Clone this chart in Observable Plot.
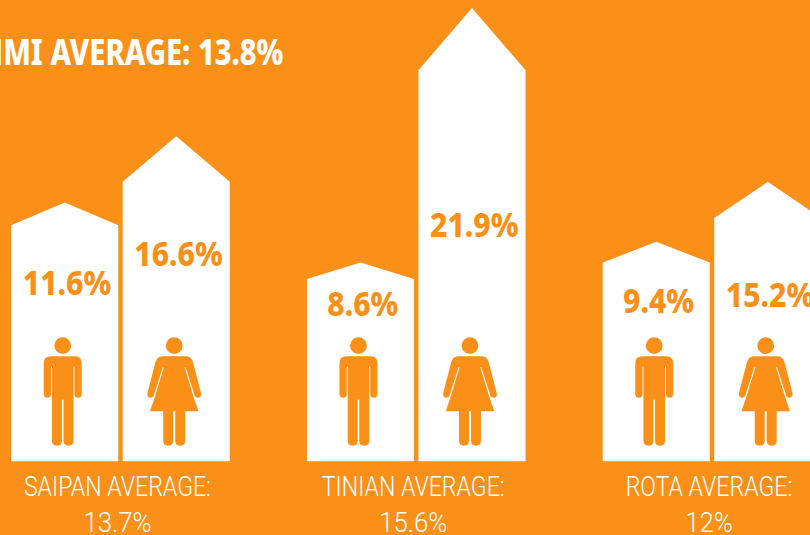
<!DOCTYPE html>
<html><head><meta charset="utf-8">
<script src="https://cdn.jsdelivr.net/npm/d3@7"></script>
<script src="https://cdn.jsdelivr.net/npm/@observablehq/plot@0.6"></script>
<style>html,body{margin:0;padding:0;background:#fb9019;overflow:hidden}svg{display:block;background:#fb9019}</style>
</head><body><div id="chart"></div>
<script>
const ORANGE = "#fb9019";
// Categories
const islands = ["SAIPAN", "TINIAN", "ROTA"];
const genders = ["male", "female"];
const islandAverage = ["13.7%", "15.6%", "12%"];
const overall = "CNMI AVERAGE: 13.8%";
// Labelled percentages
const maleLabel = [11.6, 8.6, 9.4];
const femaleLabel = [16.6, 21.9, 15.2];
// Heights, in the chart's percent-like y units
const maleShoulder = [11.4, 8.8, 9.6];
const maleApex = [12.5, 9.6, 10.6];
const femaleShoulder = [13.5, 18.9, 11.75];
const femaleApex = [15.7, 21.9, 13.5];
// Where the value labels sit inside each house
const maleLabelLevel = [8.56, 7.54, 7.69];
const femaleLabelLevel = [9.96, 11.36, 7.98];

const OFFSET = 0.1885, HALF = 0.181;
const bars = islands.flatMap((island, i) => [
  {island, i, gender: "male", cx: i - OFFSET, v: maleLabel[i], s: maleShoulder[i], a: maleApex[i], l: maleLabelLevel[i]},
  {island, i, gender: "female", cx: i + OFFSET, v: femaleLabel[i], s: femaleShoulder[i], a: femaleApex[i], l: femaleLabelLevel[i]}
]);
const outline = bars.flatMap(b => [
  {id: b.island + b.gender, x: b.cx - HALF, y: b.s},
  {id: b.island + b.gender, x: b.cx, y: b.a},
  {id: b.island + b.gender, x: b.cx + HALF, y: b.s}
]);

function drawHalves(ctx, k, pts) {
  ctx.moveTo(0, pts[0][1] * k);
  for (const p of pts) {
    if (p.length === 2) ctx.lineTo(p[0] * k, p[1] * k);
    else ctx.quadraticCurveTo(p[0] * k, p[1] * k, p[2] * k, p[3] * k);
  }
  for (let j = pts.length - 1; j >= 0; j--) {
    const p = pts[j];
    const before = j > 0 ? pts[j - 1] : [0, pts[0][1]];
    const bx = before.length === 2 ? before[0] : before[2];
    const by = before.length === 2 ? before[1] : before[3];
    if (p.length === 2) ctx.lineTo(-bx * k, by * k);
    else ctx.quadraticCurveTo(-p[0] * k, p[1] * k, -bx * k, by * k);
  }
  ctx.closePath();
}
function head(ctx, k) {
  ctx.moveTo(8.4 * k, -50 * k);
  ctx.arc(0, -50 * k, 8.4 * k, 0, 2 * Math.PI);
  ctx.closePath();
}
const manSymbol = {draw(ctx, size) {
  const k = Math.sqrt(size / Math.PI) / 50;
  head(ctx, k);
  drawHalves(ctx, k, [
    [12, -39.3], [19, -39.3, 19, -32.3], [19, -2],
    [19, 2, 15.3, 2], [11.7, 2, 11.7, -2], [11.7, -29], [10.8, -29],
    [10.8, 44.8], [10.8, 50, 5.8, 50], [0.8, 50, 0.8, 44.8], [0.8, 4], [0, 4]
  ]);
}};
const womanSymbol = {draw(ctx, size) {
  const k = Math.sqrt(size / Math.PI) / 50;
  head(ctx, k);
  drawHalves(ctx, k, [
    [12, -39.3], [17, -39.3, 18.8, -33.3], [26.7, -3],
    [27.6, 1.5, 24, 2], [21, 2.3, 20.2, -1], [11.4, -28.5], [10.4, -28.5],
    [19.6, 2], [24.3, 15.7], [11, 15.7],
    [11, 44.8], [11, 50, 6, 50], [1, 50, 1, 44.8], [1, 15.7], [0, 15.7]
  ]);
}};

const ICON_LEVEL = 3.19;
const dotOpts = {x: d => d.cx - 0.0085, y: () => ICON_LEVEL, r: 50, fill: ORANGE, stroke: "none"};

const plot = Plot.plot({
  width: 810, height: 535,
  margin: 0,
  style: {background: ORANGE, overflow: "hidden"},
  x: {domain: [-0.4074, 2.3314], range: [0, 810], axis: null},
  y: {domain: [-3.57, 22.29], range: [535, 0], axis: null},
  marks: [
    Plot.areaY(outline, {x: "x", y1: () => 0, y2: "y", z: "id", fill: "white", curve: "linear"}),
    Plot.dot(bars.filter(b => b.gender === "male"), {...dotOpts, symbol: () => manSymbol}),
    Plot.dot(bars.filter(b => b.gender === "female"), {...dotOpts, symbol: () => womanSymbol}),
    Plot.text(bars, {
      x: d => d.cx + 0.006, y: "l", text: d => d.v + "%",
      fill: ORANGE, fontFamily: "Noto Sans", fontWeight: 800, fontSize: 33, textAnchor: "middle",
      className: "val"
    }),
    Plot.text(islands, {
      x: (d, i) => i - 0.012, y: () => -1.21, text: d => d + " AVERAGE:",
      fill: "white", fontFamily: "Roboto", fontWeight: 300, fontSize: 28, textAnchor: "middle",
      className: "cap"
    }),
    Plot.text(islandAverage, {
      x: (d, i) => i - 0.012, y: () => -2.95, text: d => d,
      fill: "white", fontFamily: "Roboto", fontWeight: 300, fontSize: 28, textAnchor: "middle",
      className: "cap2"
    }),
    Plot.text([overall], {
      x: () => 0.549, y: () => 19.7, text: d => d,
      fill: "white", fontFamily: "Noto Sans", fontWeight: 800, fontSize: 35, textAnchor: "end",
      className: "ttl"
    })
  ]
});
document.getElementById("chart").append(plot);

// Narrow the available faces to the reference's condensed lettering
const squeeze = {val: 0.91, cap: 0.825, cap2: 0.92, ttl: 0.83};
for (const [cls, f] of Object.entries(squeeze)) {
  d3.select(plot).selectAll(`.${cls} text`).each(function () {
    this.setAttribute("textLength", this.getComputedTextLength() * f);
    this.setAttribute("lengthAdjust", "spacingAndGlyphs");
  });
}
</script></body></html>
